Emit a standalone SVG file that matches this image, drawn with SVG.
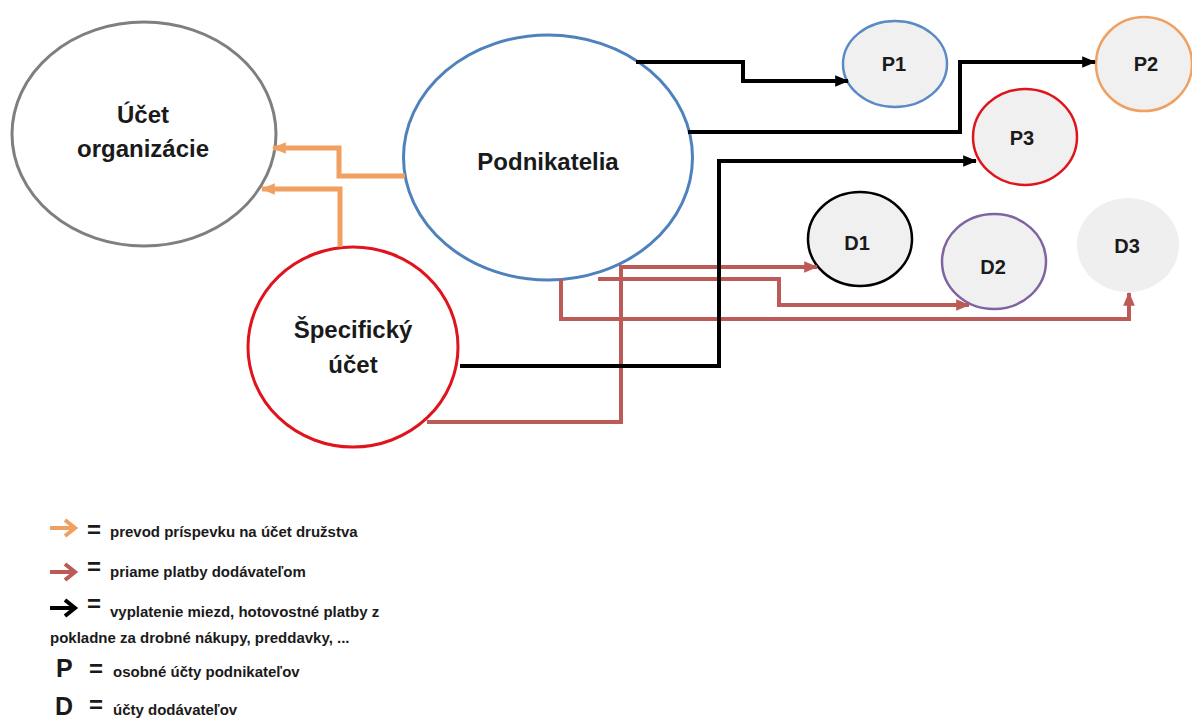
<svg xmlns="http://www.w3.org/2000/svg" width="1192" height="720" viewBox="0 0 1192 720">
<style>
  .lbl{font-family:"Liberation Sans",Arial,sans-serif;font-weight:bold;fill:#1a1a1a;text-anchor:middle}
  .big{font-size:24px}
  .sm{font-size:20px}
  .leg{font-family:"Liberation Sans",Arial,sans-serif;font-weight:bold;fill:#1a1a1a;font-size:15px}
  .eq{font-family:"Liberation Sans",Arial,sans-serif;font-weight:bold;fill:#1a1a1a;font-size:24px}
  .k{font-family:"Liberation Sans",Arial,sans-serif;font-weight:bold;fill:#1a1a1a;font-size:25px}
  .c-or{fill:none;stroke:#f0a060;stroke-width:5}
  .c-rd{fill:none;stroke:#bc5a58;stroke-width:4}
  .c-bk{fill:none;stroke:#000;stroke-width:4}
  .small{fill:#f0f0f0;stroke-width:2.5}
</style>
<defs>
  <marker id="mor" markerUnits="userSpaceOnUse" markerWidth="14" markerHeight="14" viewBox="0 0 12 12" refX="11" refY="6" orient="auto"><path d="M0,1 L12,6 L0,11 z" fill="#f0a060"/></marker>
  <marker id="mrd" markerUnits="userSpaceOnUse" markerWidth="14" markerHeight="14" viewBox="0 0 12 12" refX="11" refY="6" orient="auto"><path d="M0,1 L12,6 L0,11 z" fill="#bc5a58"/></marker>
  <marker id="mbk" markerUnits="userSpaceOnUse" markerWidth="14" markerHeight="14" viewBox="0 0 12 12" refX="11" refY="6" orient="auto"><path d="M0,1 L12,6 L0,11 z" fill="#000"/></marker>
</defs>
<rect width="1192" height="720" fill="#fff"/>

<g id="ucet-organizacie">
  <ellipse cx="144" cy="134" rx="132" ry="112" fill="#fff" stroke="#7f7f7f" stroke-width="3"/>
  <text class="lbl big" x="143" y="123">Účet</text>
  <text class="lbl big" x="143" y="157">organizácie</text>
</g>
<g id="podnikatelia">
  <ellipse cx="548" cy="157.5" rx="144.5" ry="122.5" fill="#fff" stroke="#4f81bd" stroke-width="3"/>
  <text class="lbl big" x="548" y="170">Podnikatelia</text>
</g>
<g id="specificky-ucet">
  <ellipse cx="353" cy="347" rx="105" ry="100" fill="#fff" stroke="#e0141c" stroke-width="3"/>
  <text class="lbl big" x="353" y="338">Špecifický</text>
  <text class="lbl big" x="353" y="373">účet</text>
</g>
<g id="P1">
  <ellipse class="small" cx="895" cy="64" rx="52" ry="43" stroke="#5b8bc4"/>
  <text class="lbl sm" x="894" y="71">P1</text>
</g>
<g id="P2">
  <ellipse class="small" cx="1144" cy="64" rx="48" ry="47" stroke="#f0a060"/>
  <text class="lbl sm" x="1146" y="71">P2</text>
</g>
<g id="P3">
  <ellipse class="small" cx="1025" cy="137" rx="52" ry="48" stroke="#e0141c"/>
  <text class="lbl sm" x="1022" y="145">P3</text>
</g>
<g id="D1">
  <ellipse class="small" cx="860" cy="239" rx="52" ry="47" stroke="#000"/>
  <text class="lbl sm" x="857" y="250">D1</text>
</g>
<g id="D2">
  <ellipse class="small" cx="994" cy="261.5" rx="52" ry="47.5" stroke="#8064a2"/>
  <text class="lbl sm" x="993" y="274">D2</text>
</g>
<g id="D3">
  <ellipse cx="1128" cy="245" rx="51" ry="47" fill="#efefef"/>
  <text class="lbl sm" x="1127" y="253">D3</text>
</g>

<g id="connectors">
  <path class="c-or" d="M405,176 H339 V148 H273" marker-end="url(#mor)"/>
  <path class="c-or" d="M340,247 V189 H262" marker-end="url(#mor)"/>
  <path class="c-rd" d="M427,422 H621 V267 H817" marker-end="url(#mrd)"/>
  <path class="c-rd" d="M598,279 H779 V305 H969" marker-end="url(#mrd)"/>
  <path class="c-rd" d="M561,279 V319 H1129 V293" marker-end="url(#mrd)"/>
  <path class="c-bk" d="M636,62 H743 V81 H848" marker-end="url(#mbk)"/>
  <path class="c-bk" d="M688,132 H960 V62 H1095" marker-end="url(#mbk)"/>
  <path class="c-bk" d="M460,366 H719 V161 H976" marker-end="url(#mbk)"/>
</g>

<g id="legend">
  <path d="M50,528 H74 M65,520 L75,528 L65,536" fill="none" stroke="#f0a060" stroke-width="4"/>
  <text class="eq" x="87" y="538">=</text>
  <text class="leg" x="110" y="537">prevod príspevku na účet družstva</text>
  <path d="M50,572 H74 M65,564 L75,572 L65,580" fill="none" stroke="#bc5a58" stroke-width="4"/>
  <text class="eq" x="87" y="575">=</text>
  <text class="leg" x="110" y="577">priame platby dodávateľom</text>
  <path d="M50,608 H74 M65,600 L75,608 L65,616" fill="none" stroke="#000" stroke-width="4"/>
  <text class="eq" x="87" y="612">=</text>
  <text class="leg" x="110" y="617">vyplatenie miezd, hotovostné platby z</text>
  <text class="leg" x="50" y="643">pokladne za drobné nákupy, preddavky, ...</text>
  <text class="k" x="56" y="677">P</text>
  <text class="eq" x="89" y="677">=</text>
  <text class="leg" x="113" y="677">osobné účty podnikateľov</text>
  <text class="k" x="55" y="715">D</text>
  <text class="eq" x="89" y="713">=</text>
  <text class="leg" x="113" y="715">účty dodávateľov</text>
</g>
</svg>
